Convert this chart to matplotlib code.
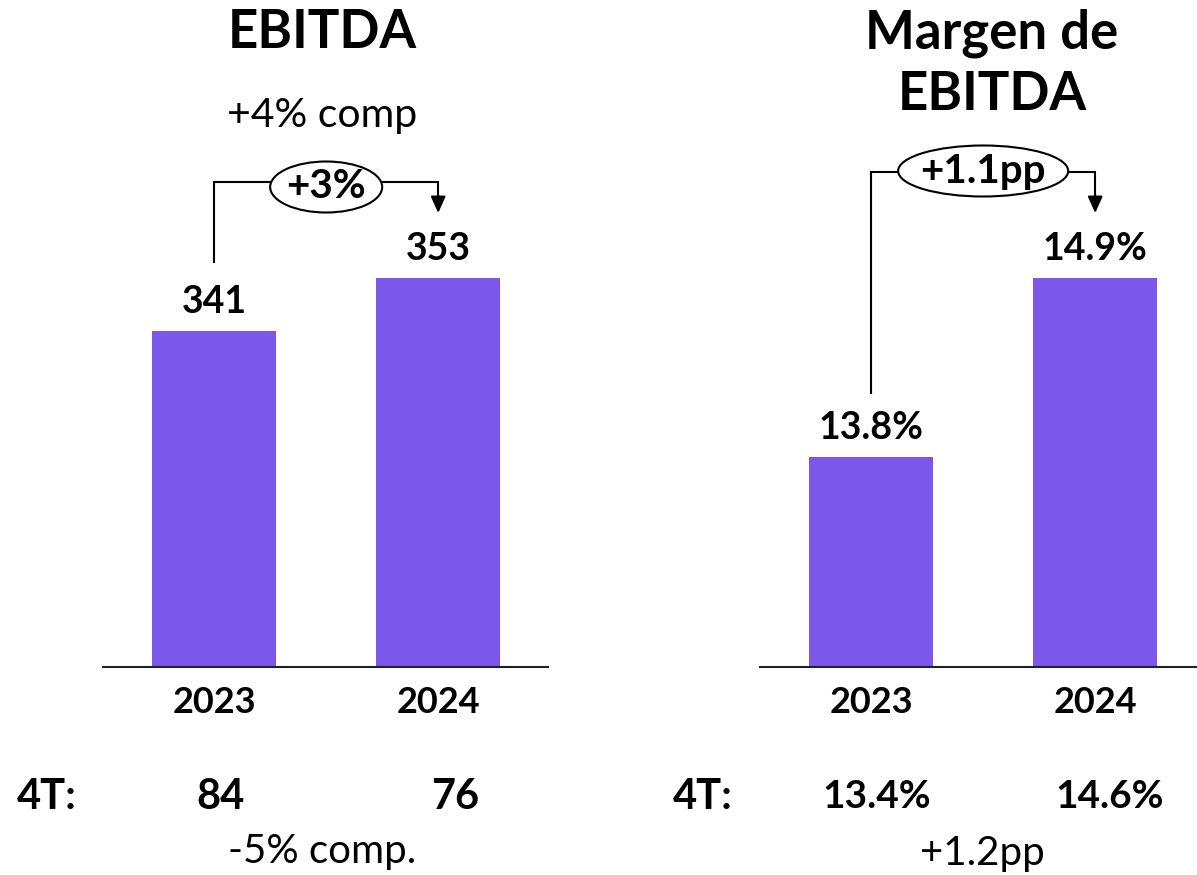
import matplotlib
matplotlib.use("Agg")
import matplotlib.pyplot as plt
from matplotlib.patches import Ellipse
import matplotlib.transforms as mtransforms

plt.rcParams['font.family'] = ['Lato', 'DejaVu Sans']

years = ["2023", "2024"]
ebitda = [341, 353]
ebitda_labels = ["341", "353"]
margin = [13.8, 14.9]
margin_labels = ["13.8%", "14.9%"]
ebitda_change = "+3%"
margin_change = "+1.1pp"
ebitda_q4 = ["84", "76"]
margin_q4 = ["13.4%", "14.6%"]
ebitda_title = "EBITDA"
margin_title = "Margen de\nEBITDA"
ebitda_sub = "+4% comp"
ebitda_q4_note = "-5% comp."
margin_q4_note = "+1.2pp"
q4_label = "4T:"

BAR = "#7B57EA"
W, H = 1197, 875
fig = plt.figure(figsize=(W / 100, H / 100), dpi=100)

def fx(px):
    return px / W

def fy(py):
    return 1 - py / H

base_px = 667
top_px = 100
ax_h = (base_px - top_px) / H

def make_ax(left_px, ymin, vmax, vmax_px):
    ax = fig.add_axes([fx(left_px), fy(base_px), 445 / W, ax_h])
    frac = (base_px - vmax_px) / (base_px - top_px)
    ymax = ymin + (vmax - ymin) / frac
    ax.set_ylim(ymin, ymax)
    ax.set_xlim(-0.496, 1.49)
    for s in ["top", "right", "left"]:
        ax.spines[s].set_visible(False)
    ax.spines["bottom"].set_color("#222222")
    ax.spines["bottom"].set_linewidth(1.5)
    ax.set_yticks([])
    ax.tick_params(axis="x", length=0, pad=14)
    return ax

def yfrac(py):
    return (base_px - py) / (base_px - top_px)

def draw_panel(ax, vals, labels, change, ell_w_px, line_px, ell_px, start_gap_px):
    xs = [0, 1]
    ax.bar(xs, vals, width=0.554, color=BAR)
    ax.set_xticks(xs)
    ax.set_xticklabels(years, fontsize=26, fontweight="bold")
    for x, v, l in zip(xs, vals, labels):
        ax.annotate(l, (x, v), xytext=(0, 21), textcoords="offset points",
                    ha="center", va="center", fontsize=27, fontweight="bold")
    tr = mtransforms.blended_transform_factory(ax.transData, ax.transAxes)
    yl = yfrac(line_px)
    y0_disp = ax.transData.transform((0, vals[0]))[1] + start_gap_px
    y0 = ax.transAxes.inverted().transform((0, y0_disp))[1]
    ell_w = ell_w_px / 224
    ax.plot([0, 0, 0.5 - ell_w / 2], [y0, yl, yl], color="black", lw=1.5,
            transform=tr, clip_on=False, solid_joinstyle="miter")
    ax.plot([0.5 + ell_w / 2, 1, 1], [yl, yl, yfrac(200)], color="black", lw=1.5,
            transform=tr, clip_on=False, solid_joinstyle="miter")
    ax.annotate("", xy=(1, yfrac(213)), xytext=(1, yfrac(195)),
                xycoords=tr, textcoords=tr,
                arrowprops=dict(arrowstyle="-|>,head_length=1.0,head_width=0.45",
                                color="black", lw=1.5, shrinkA=0, shrinkB=0))
    ell = Ellipse((0.5, yfrac(ell_px)), ell_w, 51 / (base_px - top_px),
                  transform=tr, facecolor="white", edgecolor="black", lw=1.5,
                  clip_on=False, zorder=3)
    ax.add_artist(ell)
    ax.text(0.5, yfrac(ell_px), change, transform=tr, ha="center", va="center",
            fontsize=29, fontweight="bold", zorder=4)

ax1 = make_ax(103, 264.9, 353, 278)
draw_panel(ax1, ebitda, ebitda_labels, ebitda_change, 112, 182, 187, 69)

ax2 = make_ax(760, 12.51, 14.9, 278)
draw_panel(ax2, margin, margin_labels, margin_change, 170, 172, 171, 64)

# titles
fig.text(fx(322), fy(33), ebitda_title, ha="center", va="center", fontsize=38, fontweight="bold")
fig.text(fx(992), fy(64), margin_title, ha="center", va="center", fontsize=38,
         fontweight="bold", linespacing=1.3)
fig.text(fx(322), fy(116), ebitda_sub, ha="center", va="center", fontsize=29.5)

# bottom row
for xp, t, fs in [(47, q4_label, 30), (220, ebitda_q4[0], 30), (455, ebitda_q4[1], 30),
                  (703, q4_label, 30), (877, margin_q4[0], 28), (1110, margin_q4[1], 28)]:
    fig.text(fx(xp), fy(797), t, ha="center", va="center", fontsize=fs, fontweight="bold")
fig.text(fx(322), fy(852), ebitda_q4_note, ha="center", va="center", fontsize=29)
fig.text(fx(982), fy(853), margin_q4_note, ha="center", va="center", fontsize=29)

fig.savefig("out.png", dpi=100)
